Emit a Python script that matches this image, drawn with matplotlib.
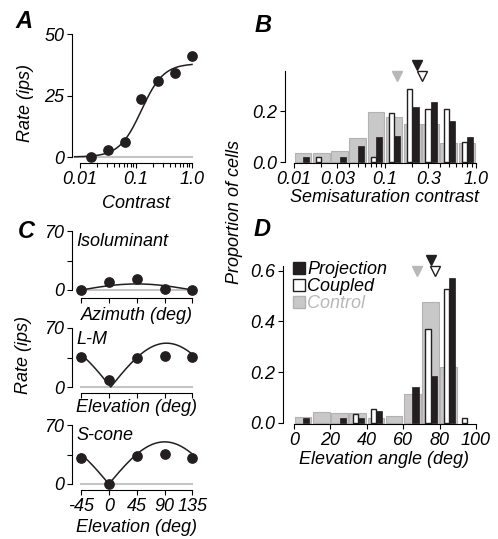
import numpy as np
import matplotlib
matplotlib.use("Agg")
import matplotlib.pyplot as plt
from matplotlib.ticker import FixedLocator, NullFormatter
from matplotlib.patches import Patch

plt.rcParams['font.family'] = ['Liberation Sans', 'DejaVu Sans']
plt.rcParams['font.style'] = 'italic'
plt.rcParams['font.size'] = 13
plt.rcParams['axes.linewidth'] = 0.8

W, H = 498, 539

BLACK = '#231f20'
GRAY = '#c8c8c8'
GRAY_EDGE = '#b2b2b2'
GRAY_TEXT = '#b8b8b8'
BASE = '#c4c4c4'

# --- panel A: contrast response
contrast = [0.0156, 0.031, 0.0625, 0.125, 0.25, 0.5, 1.0]
rate = [0.0, 2.8, 6.1, 23.6, 30.9, 34.1, 41.0]
fit_rmax, fit_c50, fit_n = 38.0, 0.125, 2.2

# --- panel B: semisaturation histogram (log bins)
semisat_edges = [0.01, 0.0158, 0.0251, 0.0398, 0.0631, 0.1, 0.158, 0.251, 0.398, 0.631, 1.0]
proj_b = [0.021, 0.0, 0.021, 0.063, 0.100, 0.102, 0.217, 0.237, 0.160, 0.100]
coup_b = [0.0, 0.021, 0.0, 0.0, 0.021, 0.191, 0.285, 0.209, 0.209, 0.078]
ctrl_b = [0.034, 0.034, 0.043, 0.095, 0.197, 0.178, 0.148, 0.148, 0.075, 0.075]
median_b = {'ctrl': 0.134, 'proj': 0.226, 'coup': 0.257}

# --- panel C: color tuning
angles = [-45, 0, 45, 90, 135]
iso = [0.0, 9.3, 13.5, 1.2, 0.0]
lm = [35.8, 7.8, 34.6, 36.6, 35.8]
scone = [30.3, 0.0, 33.4, 35.4, 30.3]
# rectified sinusoid fits: (amplitude, zero crossing in deg)
fit_iso = (7.2, -45)
fit_lm = (52.0, 3)
fit_scone = (50.0, 0)

# --- panel D: elevation histogram
elev_edges = [0, 10, 20, 30, 40, 50, 60, 70, 80, 90, 100]
proj_d = [0.020, 0.0, 0.020, 0.020, 0.045, 0.0, 0.142, 0.185, 0.573, 0.0]
coup_d = [0.0, 0.0, 0.0, 0.034, 0.053, 0.0, 0.0, 0.369, 0.527, 0.017]
ctrl_d = [0.024, 0.042, 0.040, 0.037, 0.020, 0.026, 0.112, 0.478, 0.221, 0.0]
median_d = {'ctrl': 67.7, 'proj': 75.3, 'coup': 77.7}

fig = plt.figure(figsize=(W / 100, H / 100), dpi=100)


def px_axes(left, top, right, bottom):
    return fig.add_axes([left / W, 1 - bottom / H, (right - left) / W, (bottom - top) / H])


def px_text(x, y, s, **kw):
    fig.text(x / W, 1 - y / H, s, ha='center', va='center', **kw)


def style(ax, xb, yb):
    for s in ['top', 'right']:
        ax.spines[s].set_visible(False)
    ax.spines['bottom'].set_bounds(*xb)
    ax.spines['left'].set_bounds(*yb)
    ax.tick_params(direction='out', length=3.6, width=0.8, pad=2, labelsize=13)
    ax.tick_params(which='minor', direction='out', length=3.0, width=0.8)
    ax.patch.set_alpha(0)


log_minor = [k * 10.0 ** e for e in (-2, -1) for k in range(2, 10)]


def hist_bars(ax, edges, ctrl, coup, proj, logx):
    for i in range(len(ctrl)):
        lo, hi = edges[i], edges[i + 1]
        if logx:
            a, b = np.log10(lo), np.log10(hi)
            pos = lambda f: 10 ** (a + f * (b - a))
        else:
            pos = lambda f: lo + f * (hi - lo)
        if ctrl[i] > 0:
            ax.bar(pos(0.04), ctrl[i], width=pos(0.96) - pos(0.04), align='edge',
                   color=GRAY, edgecolor=GRAY_EDGE, linewidth=0.8, zorder=1)
        if coup[i] > 0:
            ax.bar(pos(0.22), coup[i], width=pos(0.51) - pos(0.22), align='edge',
                   color='white', edgecolor=BLACK, linewidth=1.0, zorder=2)
        if proj[i] > 0:
            ax.bar(pos(0.51), proj[i], width=pos(0.85) - pos(0.51), align='edge',
                   color=BLACK, edgecolor=BLACK, linewidth=0.5, zorder=3)


def medians(ax, med, y_low, y_high):
    ax.plot([med['ctrl']], [y_low], 'v', ms=7, color=GRAY_TEXT, mec=GRAY_TEXT, clip_on=False)
    ax.plot([med['proj']], [y_high], 'v', ms=7, color=BLACK, mec=BLACK, clip_on=False)
    ax.plot([med['coup']], [y_low], 'v', ms=7, color='white', mec=BLACK, mew=1.0, clip_on=False)


# ---------------- A
axA = px_axes(72, 30, 196, 163)
axA.set_xscale('log')
axA.set_xlim(10 ** (-2 - 8 / 56), 10 ** (4 / 56))
axA.set_ylim(-6 / 2.46, 50 + 4 / 2.46)
style(axA, (0.01, 1.0), (0, 50))
cc = np.logspace(np.log10(0.008), 0, 200)
axA.plot([0.008, 1.0], [0, 0], color=BASE, lw=1.5, zorder=1)
axA.plot(cc, fit_rmax * cc ** fit_n / (cc ** fit_n + fit_c50 ** fit_n), color=BLACK, lw=1.1, zorder=2)
axA.plot(contrast, rate, 'o', color=BLACK, ms=6.7, clip_on=False, zorder=3)
axA.xaxis.set_major_locator(FixedLocator([0.01, 0.1, 1.0]))
axA.xaxis.set_minor_locator(FixedLocator(log_minor))
axA.xaxis.set_minor_formatter(NullFormatter())
axA.set_xticklabels(['0.01', '0.1', '1.0'])
axA.set_yticks([0, 25, 50])
axA.set_yticklabels(['0', '25', '50'])
px_text(24, 22, 'A', fontsize=17, fontweight='bold')
px_text(25, 103, 'Rate (ips)', rotation=90)
px_text(136, 204, 'Contrast')

# ---------------- B
axB = px_axes(285, 56, 480, 163)
axB.set_xscale('log')
axB.set_xlim(10 ** (-2 - 9 / 91), 10 ** (-2 + 186 / 91))
axB.set_ylim(-1 / 255, 106 / 255)
style(axB, (0.01, 1.0), (0, 0.355))
hist_bars(axB, semisat_edges, ctrl_b, coup_b, proj_b, True)
medians(axB, median_b, 0.337, 0.38)
axB.xaxis.set_major_locator(FixedLocator([0.01, 0.03, 0.1, 0.3, 1.0]))
axB.xaxis.set_minor_locator(FixedLocator(log_minor))
axB.xaxis.set_minor_formatter(NullFormatter())
axB.set_xticklabels(['0.01', '0.03', '0.1', '0.3', '1.0'])
axB.set_yticks([0, 0.2])
axB.set_yticklabels(['0.0', '0.2'])
px_text(263, 26, 'B', fontsize=17, fontweight='bold')
px_text(385, 198, 'Semisaturation contrast')
px_text(234, 212, 'Proportion of cells', rotation=90)

# ---------------- C
c_panels = [
    (226, 298, 290, iso, fit_iso, 'Isoluminant', 'Azimuth (deg)', 316),
    (323, 393, 387, lm, fit_lm, 'L-M', 'Elevation (deg)', 408),
    (420, 490, 484, scone, fit_scone, 'S-cone', 'Elevation (deg)', 527),
]
theta = np.linspace(-45, 135, 361)
py = 59 / 70
for k, (top, bot, zero_px, vals, fit, name, xl, xl_y) in enumerate(c_panels):
    ax = px_axes(71.5, top, 196, bot)
    ax.set_xlim(-45 - 9.5 / 0.619, 135 + 3.5 / 0.619)
    ax.set_ylim(-(bot - zero_px) / py, (zero_px - top) / py)
    style(ax, (-45, 135), (0, 70))
    ax.plot([-45, 135], [0, 0], color=BASE, lw=1.5, zorder=1)
    amp, th0 = fit
    ax.plot(theta, amp * np.abs(np.sin(np.radians(theta - th0))), color=BLACK, lw=1.1, zorder=2)
    ax.plot(angles, vals, 'o', color=BLACK, ms=6.7, clip_on=False, zorder=3)
    ax.set_yticks([0, 35, 70])
    ax.set_yticklabels(['0', '', '70'])
    ax.set_xticks(angles)
    if k == 2:
        ax.set_xticklabels(['-45', '0', '45', '90', '135'])
    else:
        ax.set_xticklabels([])
    ax.text(-52, 70 - 11 / py, name, ha='left', va='center', fontsize=13)
    px_text(137, xl_y, xl)
px_text(26, 231, 'C', fontsize=17, fontweight='bold')
px_text(24, 355, 'Rate (ips)', rotation=90)

# ---------------- D
axD = px_axes(283, 252, 480, 424)
axD.set_xlim(-11 / 1.82, 186 / 1.82)
axD.set_ylim(-1.3 / 253, 170.7 / 253)
style(axD, (0, 100), (0, 0.62))
hist_bars(axD, elev_edges, ctrl_d, coup_d, proj_d, False)
medians(axD, median_d, 0.60, 0.643)
axD.set_xticks([0, 20, 40, 60, 80, 100])
axD.set_yticks([0, 0.2, 0.4, 0.6])
axD.set_yticklabels(['0.0', '0.2', '0.4', '0.6'])
handles = [Patch(facecolor=BLACK, edgecolor=BLACK),
           Patch(facecolor='white', edgecolor=BLACK, linewidth=1.0),
           Patch(facecolor=GRAY, edgecolor=GRAY_EDGE)]
leg = axD.legend(handles, ['Projection', 'Coupled', 'Control'], loc='upper left',
                 bbox_to_anchor=(293 / W, 1 - 261 / H), bbox_transform=fig.transFigure,
                 frameon=False, fontsize=13, handlelength=0.65, handleheight=0.65,
                 handletextpad=0.15, labelspacing=0.0, borderpad=0, borderaxespad=0)
leg.get_texts()[2].set_color(GRAY_TEXT)
px_text(262, 229, 'D', fontsize=17, fontweight='bold')
px_text(384, 460, 'Elevation angle (deg)')

fig.savefig('out.png', dpi=100)
